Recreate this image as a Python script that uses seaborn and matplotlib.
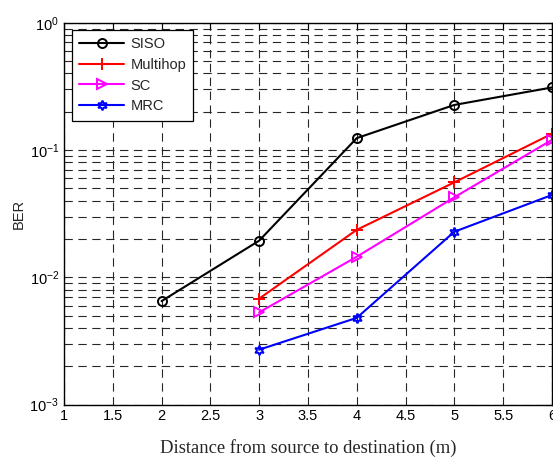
import matplotlib
matplotlib.use("Agg")
import matplotlib.pyplot as plt
from matplotlib.ticker import LogLocator, NullFormatter, MultipleLocator, FormatStrFormatter
import seaborn as sns

# BER versus source-destination distance for four transmission schemes
siso_distance = [2, 3, 4, 5, 6]
siso_ber = [0.0065, 0.0194, 0.124, 0.226, 0.31]

relay_distance = [3, 4, 5, 6]
multihop_ber = [0.0068, 0.0236, 0.0557, 0.134]
sc_ber = [0.0053, 0.0145, 0.0425, 0.12]
mrc_ber = [0.0027, 0.0048, 0.0228, 0.0443]

sns.set_style("white")
plt.rcParams["font.family"] = ["Liberation Sans", "DejaVu Sans"]
plt.rcParams["mathtext.fontset"] = "custom"
plt.rcParams["mathtext.rm"] = "Liberation Sans"
plt.rcParams["mathtext.it"] = "Liberation Sans:italic"
plt.rcParams["lines.scale_dashes"] = False

fig = plt.figure(figsize=(5.53, 4.58), dpi=100)
ax = fig.add_axes([0.1157, 0.1166, 0.8823, 0.8338])

series = [
    ("SISO", siso_distance, siso_ber, "black", "o", 6.5),
    ("Multihop", relay_distance, multihop_ber, "red", "+", 8),
    ("SC", relay_distance, sc_ber, "magenta", ">", 7),
    ("MRC", relay_distance, mrc_ber, "blue", (6, 1, 0), 7),
]
for name, xs, ys, col, mk, ms in series:
    sns.lineplot(x=xs, y=ys, ax=ax, color=col, marker=mk, ms=ms,
                 mfc="none", mec=col, mew=1.4, lw=1.5, label=name)

ax.set_yscale("log")
ax.set_xlim(1, 6)
ax.set_ylim(1e-3, 1)
ax.xaxis.set_major_locator(MultipleLocator(0.5))
ax.xaxis.set_major_formatter(FormatStrFormatter("%g"))
ax.yaxis.set_major_locator(LogLocator(base=10, numticks=10))
ax.yaxis.set_minor_locator(LogLocator(base=10, subs=range(2, 10), numticks=20))
ax.yaxis.set_minor_formatter(NullFormatter())

grid_style = dict(color="0.15", linestyle=(0, (6, 4)), linewidth=0.8)
ax.grid(True, which="major", axis="both", **grid_style)
ax.grid(True, which="minor", axis="y", **grid_style)

ax.tick_params(which="both", direction="in", top=True, right=True,
               labelsize=10.5, colors="black")
ax.tick_params(which="major", length=5, width=0.8)
ax.tick_params(which="minor", length=3, width=0.6)
for sp in ax.spines.values():
    sp.set_color("black")
    sp.set_linewidth(1.0)

ax.set_xlabel("Distance from source to destination (m)",
              family=["Liberation Serif", "DejaVu Serif"], fontsize=13.4, labelpad=11)
ax.set_ylabel("BER", fontsize=10.5, labelpad=3)

leg = ax.legend(loc="upper left", bbox_to_anchor=(0.0164, 0.982), borderaxespad=0,
                fontsize=10.5, handlelength=3.1, labelspacing=0.47, handletextpad=0.4,
                borderpad=0.5, fancybox=False, framealpha=1, edgecolor="black")
leg.get_frame().set_linewidth(0.9)

fig.savefig("out.png", dpi=100)
